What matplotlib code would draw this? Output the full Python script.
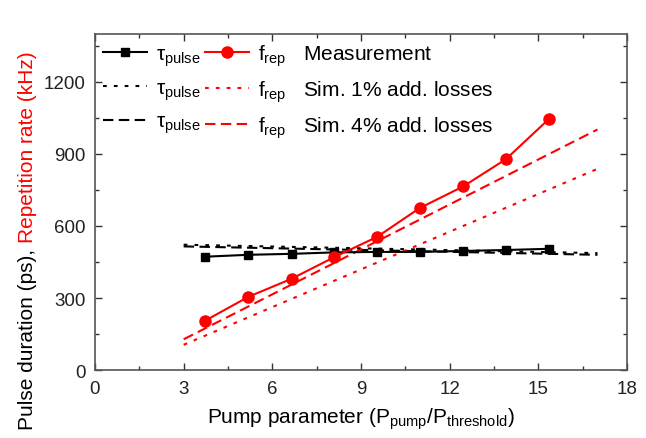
import matplotlib
matplotlib.use("Agg")
import matplotlib.pyplot as plt
from matplotlib.lines import Line2D
from matplotlib.ticker import MultipleLocator

plt.rcParams['font.family'] = ['Liberation Sans', 'DejaVu Sans']
plt.rcParams['mathtext.fontset'] = 'custom'
plt.rcParams['mathtext.rm'] = 'Liberation Sans'
plt.rcParams['mathtext.it'] = 'Liberation Sans'
plt.rcParams['mathtext.default'] = 'regular'

# Measurement data
pump = [3.72, 5.19, 6.65, 8.09, 9.55, 10.99, 12.46, 13.9, 15.36]
tau_meas = [472, 480, 484, 490, 492, 492, 496, 500, 505]
frep_meas = [205, 305, 380, 470, 555, 675, 765, 878, 1046]

# Simulations
sim_pump = [3, 17]
tau_sim1 = [522, 487]
frep_sim1 = [105, 838]
tau_sim4 = [515, 480]
frep_sim4 = [128, 1002]

xticks = [0, 3, 6, 9, 12, 15, 18]
yticks = [0, 300, 600, 900, 1200]

fig = plt.figure(figsize=(6.46, 4.39), dpi=100)
ax = fig.add_axes([95/646, 1-371/439, (627-95)/646, (371-35)/439])

RED = '#ff0000'
lw = 1.5
dot = (0, (1.8, 3.4))
dash = (0, (5, 2.6))

ax.plot(sim_pump, tau_sim1, color='black', lw=lw, linestyle=dot)
ax.plot(sim_pump, tau_sim4, color='black', lw=lw, linestyle=dash)
ax.plot(sim_pump, frep_sim1, color=RED, lw=lw, linestyle=dot)
ax.plot(sim_pump, frep_sim4, color=RED, lw=lw, linestyle=dash)
ax.plot(pump, tau_meas, color='black', lw=lw, marker='s', ms=6)
ax.plot(pump, frep_meas, color=RED, lw=lw, marker='o', ms=8)

ax.set_xlim(0, 18)
ax.set_ylim(0, 1400)
ax.set_xticks(xticks)
ax.set_yticks(yticks)
ax.xaxis.set_minor_locator(MultipleLocator(1.5))
ax.yaxis.set_minor_locator(MultipleLocator(150))
ax.tick_params(which='both', direction='in', top=True, right=True,
               colors='#333333', labelcolor='#222222', labelsize=13.5)
ax.tick_params(which='major', length=5, width=1, pad=7)
ax.tick_params(which='minor', length=3, width=1)
for s in ax.spines.values():
    s.set_color('#555555')
    s.set_linewidth(1.2)

# Legend
h = [
    Line2D([], [], color='black', lw=lw, marker='s', ms=6),
    Line2D([], [], color='black', lw=lw, linestyle=dot),
    Line2D([], [], color='black', lw=lw, linestyle=dash),
    Line2D([], [], color=RED, lw=lw, marker='o', ms=8),
    Line2D([], [], color=RED, lw=lw, linestyle=dot),
    Line2D([], [], color=RED, lw=lw, linestyle=dash),
]
tau_lab = 'τ$_{pulse}$'
f_lab = 'f$_{rep}$'
labels = [tau_lab] * 3 + [f_lab + '   Measurement', f_lab + '   Sim. 1% add. losses',
                           f_lab + '   Sim. 4% add. losses']
leg = ax.legend(h, labels, ncol=2, loc='upper left', bbox_to_anchor=(0.0, 1.0),
                frameon=False, fontsize=15, handlelength=2.1, handletextpad=0.45,
                columnspacing=0.2, labelspacing=0.5, borderaxespad=0.0, borderpad=0.4)

ax.set_xlabel('Pump parameter (P$_{pump}$/P$_{threshold}$)', fontsize=15, labelpad=6)

# Two-colour y label
fig.canvas.draw()
t1 = fig.text(28/646, 1-430/439, 'Pulse duration (ps), ', rotation=90, fontsize=15,
              color='black', ha='center', va='bottom')
fig.canvas.draw()
bb = t1.get_window_extent()
t2 = fig.text(28/646, bb.y1 / fig.bbox.height, 'Repetition rate (kHz)', rotation=90,
              fontsize=15, color=RED, ha='center', va='bottom')

fig.savefig('out.png', dpi=100)
